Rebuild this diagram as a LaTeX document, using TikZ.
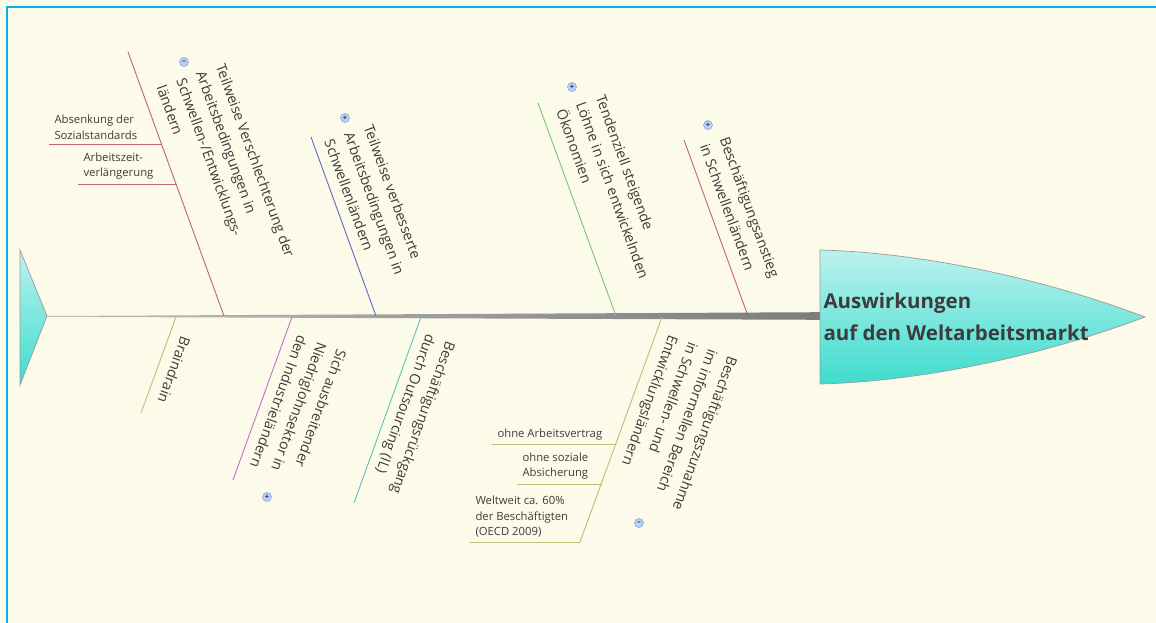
\documentclass[tikz,border=0pt]{standalone}
\usepackage{fontspec}
\setmainfont{Open Sans}
\usepackage{tikz}
\usetikzlibrary{calc}
\usetikzlibrary{positioning}
\definecolor{paper}{HTML}{FCFBE9}
\definecolor{frame}{HTML}{00B0F0}
\definecolor{ink}{HTML}{3C3C3C}
\definecolor{fishtop}{HTML}{BCF2EE}
\definecolor{fishbot}{HTML}{3EDCCE}
\definecolor{fishline}{HTML}{9A9A9A}
\definecolor{spinelight}{HTML}{BEBEBE}
\definecolor{spinedark}{HTML}{7C7C7C}
\definecolor{redbone}{HTML}{C06474}
\definecolor{bluebone}{HTML}{6464C4}
\definecolor{greenbone}{HTML}{78C478}
\definecolor{olivebone}{HTML}{BEBE78}
\definecolor{violetbone}{HTML}{C070C8}
\definecolor{tealbone}{HTML}{5EC0C0}
\definecolor{togfill}{HTML}{BCD0F4}
\definecolor{togline}{HTML}{8AA8DC}
\tikzset{every picture/.style={line width=1pt}}

\begin{document}
\begin{tikzpicture}[x=1pt,y=-1pt,
bone/.style={line width=0.9pt},
upcause/.style={rotate=-70,anchor=north west,inner sep=0pt,align=left,text=ink,font=\fontsize{14.2}{21}\selectfont},
downcause/.style={rotate=-110,anchor=north west,inner sep=0pt,align=left,text=ink,font=\fontsize{14.2}{21}\selectfont},
detail/.style={anchor=south west,inner sep=1pt,align=left,text=ink,font=\fontsize{11.3}{15.5}\selectfont},
toggle/.style={circle,draw=togline,fill=togfill,line width=0.6pt,minimum size=9pt,inner sep=0pt,text=ink!80!blue,font=\fontsize{7.5}{7.5}\selectfont\bfseries}]
\useasboundingbox (0,0) rectangle (1156,623);
\fill[paper] (0,0) rectangle (1156,623);
\draw[frame,line width=2.5pt] (7,623) -- (7,7) -- (1156,7);

% tail and spine
\draw[fishline,line width=0.7pt,top color=fishtop,bottom color=fishbot] (20,250) -- (47,316) -- (20,385) -- cycle;
\coordinate (tail) at (47,316);
\coordinate (neck) at (820,316);
\shade[left color=spinelight,right color=spinedark] (tail) -- ($(neck)+(0,-3.8)$) -- ($(neck)+(0,3.8)$) -- ($(tail)+(0,0.8)$) -- cycle;

% head
\draw[fishline,line width=0.7pt,top color=fishtop,bottom color=fishbot] (820,250) .. controls (900,252) and (1020,270) .. (1145,317) .. controls (1020,364) and (900,382) .. (820,384) -- cycle;
\node (head) [anchor=west,inner sep=0pt,align=left,text=ink,font=\fontsize{20.5}{32}\selectfont\bfseries] at (823,317) {Auswirkungen\\auf den Weltarbeitsmarkt};

% upper bones
\foreach \i/\xa/\ya/\xb/\col in {1/128/52/224/redbone,2/311/137/376/bluebone,3/538/103/616/greenbone,4/684/140/748/redbone} {
\coordinate (u\i) at (\xa,\ya);
\coordinate (us\i) at (\xb,316);
\draw[bone,\col] (u\i) -- (us\i);
}
% lower bones
\foreach \i/\xa/\xb/\yb/\col in {1/176/141/413/olivebone,2/292/233/480/violetbone,3/421/354/503/tealbone,4/662/580/542/olivebone} {
\coordinate (ls\i) at (\xa,317);
\coordinate (l\i) at (\xb,\yb);
\draw[bone,\col] (ls\i) -- (l\i);
}

\node (c1) [upcause] at (226,62) {Teilweise Verschlechterung der\\Arbeitsbedingungen in\\Schwellen-/Entwicklungs-\\ländern};
\node (c2) [upcause] at (374,123) {Teilweise verbesserte\\Arbeitsbedingungen in\\Schwellenländern};
\node (c3) [upcause] at (606,93) {Tendenziell steigende\\Löhne in sich entwickelnden\\Ökonomien};
\node (c4) [upcause] at (730,135) {Beschäftigungsanstieg\\in Schwellenländern};

\node (e1) [downcause] at (192,339) {Braindrain};
\node (e2) [downcause] at (348,352) {Sich ausbreitender\\Niedriglohnsektor in\\den Industrieländern};
\node (e3) [downcause] at (457,344) {Beschäftigungsrückgang\\durch Outsourcing (IL)};
\node (e4) [downcause] at (739,359) {Beschäftigungszunahme\\im informellen Bereich\\in Schwellen- und\\Entwicklungsländern};

\node (tg1) [toggle] at (184,62) {--};
\node (tg2) [toggle] at (345,118) {+};
\node (tg3) [toggle] at (572,87) {+};
\node (tg4) [toggle] at (708,125) {+};
\node (tg5) [toggle] at (267,497) {+};
\node (tg6) [toggle] at (639,523) {--};

% sub bones
\foreach \i/\xa/\xb/\y/\col in {1/49/161.5/144/redbone,2/78/176/184/redbone,3/492/616/444/olivebone,4/517/602/484/olivebone,5/470/580/542/olivebone} {
\coordinate (s\i) at (\xa,\y);
\coordinate (se\i) at (\xb,\y);
\draw[bone,\col] (s\i) -- (se\i);
}
\node (d1) [detail] at (53,141) {Absenkung der\\Sozialstandards};
\node (d2) [detail] at (82,181) {Arbeitszeit-\\verlängerung};
\node (d3) [detail] at (496,442) {ohne Arbeitsvertrag};
\node (d4) [detail] at (521,481) {ohne soziale\\Absicherung};
\node (d5) [detail] at (474,539) {Weltweit ca. 60\%\\der Beschäftigten\\(OECD 2009)};
\end{tikzpicture}
\end{document}
